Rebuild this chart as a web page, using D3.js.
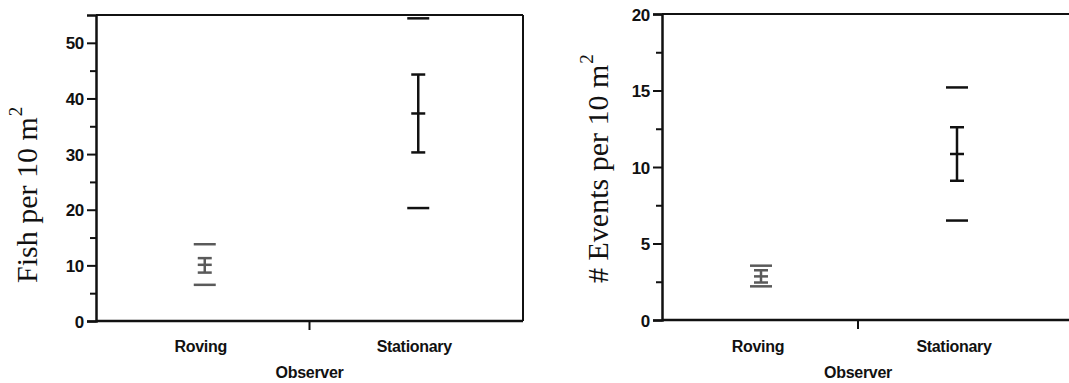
<!DOCTYPE html>
<html>
<head>
<meta charset="utf-8">
<script src="https://cdn.jsdelivr.net/npm/d3@7"></script>
<style>
  body { margin: 0; background: #fff; }
  svg text { fill: #111; }
  .tick-lbl { font-family: "Liberation Sans", Arial, sans-serif; font-size: 17px; font-weight: bold; letter-spacing: -0.3px; }
  .ytitle { font-family: "Liberation Serif", "Times New Roman", serif; font-size: 30px; }
</style>
</head>
<body>
<div id="chart"></div>
<script>
var svgWidth = 1069;
var svgHeight = 383;

// categories + values
var categories = ["Roving", "Stationary"];

var fishMean = [10.1, 37.3];
var fishErrLow = [8.7, 30.3];
var fishErrHigh = [11.3, 44.3];
var fishOuterLow = [6.5, 20.3];
var fishOuterHigh = [13.8, 54.4];
var fishTicks = [0, 10, 20, 30, 40, 50];
var fishMinorTicks = [5, 15, 25, 35, 45];

var eventsMean = [2.85, 10.85];
var eventsErrLow = [2.45, 9.1];
var eventsErrHigh = [3.25, 12.6];
var eventsOuterLow = [2.2, 6.5];
var eventsOuterHigh = [3.55, 15.2];
var eventsTicks = [0, 5, 10, 15, 20];
var eventsMinorTicks = [2.5, 7.5, 12.5, 17.5];

var markColors = ["#5a5a5a", "#111"];

var svg = d3.select("#chart")
  .append("svg")
  .attr("width", svgWidth)
  .attr("height", svgHeight);

function drawPanel(p) {
  var g = svg.append("g");

  var x = d3.scaleBand()
    .domain(categories)
    .range([p.left, p.right]);

  var y = d3.scaleLinear()
    .domain(p.domain)
    .range([p.bottom, p.top]);

  // frame: top line and optional right side
  g.append("line")
    .attr("x1", p.left).attr("x2", p.frameRight)
    .attr("y1", p.top).attr("y2", p.top)
    .attr("stroke", "#111").attr("stroke-width", 2);
  if (p.rightBorder) {
    g.append("line")
      .attr("x1", p.frameRight).attr("x2", p.frameRight)
      .attr("y1", p.top).attr("y2", p.bottom)
      .attr("stroke", "#111").attr("stroke-width", 2);
  }
  g.append("line")
    .attr("x1", p.left).attr("x2", p.frameRight)
    .attr("y1", p.bottom).attr("y2", p.bottom)
    .attr("stroke", "#111").attr("stroke-width", 2.5);

  // y axis
  var yAxis = g.append("g")
    .attr("transform", `translate(${p.left},0)`)
    .call(d3.axisLeft(y).tickValues(p.ticks).tickSize(9).tickPadding(3));
  yAxis.select(".domain").attr("stroke", "#111").attr("stroke-width", 2.5);
  yAxis.selectAll(".tick line").attr("stroke", "#111").attr("stroke-width", 2);
  yAxis.selectAll(".tick text").attr("class", "tick-lbl").attr("dy", "0.36em");

  g.append("g")
    .attr("transform", `translate(${p.left},0)`)
    .call(d3.axisLeft(y).tickValues(p.minor).tickSize(6).tickFormat(""))
    .call(s => s.select(".domain").remove())
    .selectAll(".tick line").attr("stroke", "#111").attr("stroke-width", 2);

  // x axis: one tick between the groups
  g.append("line")
    .attr("x1", x("Stationary")).attr("x2", x("Stationary"))
    .attr("y1", p.bottom).attr("y2", p.bottom + 9)
    .attr("stroke", "#111").attr("stroke-width", 2);

  g.selectAll("text.cat")
    .data(categories)
    .enter().append("text")
    .attr("class", "cat tick-lbl")
    .attr("x", d => x(d) + x.bandwidth() / 2 - 2)
    .attr("y", 352)
    .attr("text-anchor", "middle")
    .style("font-size", "16px")
    .text(d => d);

  g.append("text")
    .attr("class", "tick-lbl")
    .attr("x", x("Stationary"))
    .attr("y", 378)
    .attr("text-anchor", "middle")
    .style("font-size", "16px")
    .text("Observer");

  // y title
  var t = g.append("text")
    .attr("class", "ytitle")
    .attr("transform", `translate(${p.titleX},283) rotate(-90)`)
    .attr("text-anchor", "start");
  t.append("tspan").text(p.title);
  t.append("tspan").attr("dx", 1).attr("dy", -15).style("font-size", "19px").text("2");

  // marks
  var marks = g.selectAll("g.mark")
    .data(categories.map((c, i) => ({
      cat: c, mean: p.mean[i], lo: p.errLow[i], hi: p.errHigh[i],
      olo: p.outerLow[i], ohi: p.outerHigh[i], color: markColors[i]
    })))
    .enter().append("g")
    .attr("class", "mark")
    .attr("stroke", d => d.color)
    .attr("stroke-width", 2.5);

  var cx = d => x(d.cat) + x.bandwidth() / 2 + p.shift;

  marks.append("line")
    .attr("x1", cx).attr("x2", cx)
    .attr("y1", d => y(d.lo)).attr("y2", d => y(d.hi));

  ["lo", "hi", "mean"].forEach(function(k) {
    marks.append("line")
      .attr("x1", d => cx(d) - 7).attr("x2", d => cx(d) + 7)
      .attr("y1", d => y(d[k])).attr("y2", d => y(d[k]));
  });

  ["olo", "ohi"].forEach(function(k) {
    marks.append("line")
      .attr("x1", d => cx(d) - 11).attr("x2", d => cx(d) + 11)
      .attr("y1", d => y(d[k])).attr("y2", d => y(d[k]));
  });
}

drawPanel({
  left: 96, right: 523, frameRight: 523, rightBorder: true,
  top: 15, bottom: 321, domain: [0, 55],
  ticks: fishTicks, minor: fishMinorTicks,
  mean: fishMean, errLow: fishErrLow, errHigh: fishErrHigh,
  outerLow: fishOuterLow, outerHigh: fishOuterHigh,
  title: "Fish per 10 m", titleX: 37, shift: 2
});

drawPanel({
  left: 662, right: 1054, frameRight: 1069, rightBorder: false,
  top: 14, bottom: 320, domain: [0, 20],
  ticks: eventsTicks, minor: eventsMinorTicks,
  mean: eventsMean, errLow: eventsErrLow, errHigh: eventsErrHigh,
  outerLow: eventsOuterLow, outerHigh: eventsOuterHigh,
  title: "# Events per 10 m", titleX: 608, shift: 1
});
</script>
</body>
</html>
